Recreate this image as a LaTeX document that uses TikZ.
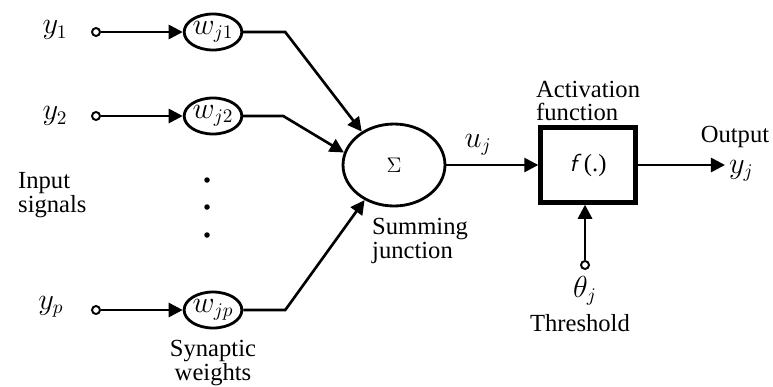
\documentclass[tikz,border=0pt]{standalone}
\usepackage{fontspec}
\setmainfont{Liberation Serif}
\usetikzlibrary{arrows.meta,shapes.geometric}

\tikzset{
	weight/.style={draw, ellipse, line width=1.6pt, inner sep=0pt,
		minimum width=1.06cm, minimum height=0.72cm},
	summer/.style={draw, ellipse, line width=1.6pt, inner sep=0pt,
		minimum width=2.04cm, minimum height=1.64cm},
	actbox/.style={draw, rectangle, line width=2.5pt, inner sep=0pt,
		minimum width=1.9cm, minimum height=1.5cm},
	terminal/.style={draw, circle, line width=1.1pt, fill=white, inner sep=0pt,
		minimum size=0.16cm},
	sig/.style={line width=1.5pt, -{Triangle[length=8pt,width=8pt]}},
	mathlbl/.style={font=\fontsize{16}{18}\selectfont},
}

\begin{document}
\begin{tikzpicture}[x=0.02cm, y=-0.02cm,
	every node/.append style={font=\fontsize{14}{13.6}\selectfont}]
	\useasboundingbox (0,0) rectangle (773,386);
	
	% Input terminals and synaptic weights
	\node[terminal] (in1) at (96,32) {};
	\node[terminal] (in2) at (96,116) {};
	\node[terminal] (inp) at (96,310) {};
	\node[weight, mathlbl] (w1) at (213,32) {$w_{j1}$};
	\node[weight, mathlbl] (w2) at (213,116) {$w_{j2}$};
	\node[weight, mathlbl] (wp) at (213,310) {$w_{jp}$};
	
	\node[mathlbl] (y1) at (55,30) {$y_1$};
	\node[mathlbl] (y2) at (55,116) {$y_2$};
	\node[mathlbl] (yp) at (51,307) {$y_p$};
	\node[align=left, anchor=west] (insig) at (12,195) {Input\\signals};
	\node[align=center] (synw) at (213,363) {Synaptic\\weights};
	
	% Dots for the omitted inputs
	\foreach \y in {180,207,235}
		\fill (207,\y) circle (0.055cm);
	
	\draw[sig] (in1) -- (w1);
	\draw[sig] (in2) -- (w2);
	\draw[sig] (inp) -- (wp);
	
	% Summing junction
	\node[summer, font=\fontsize{12}{14}\selectfont] (sum) at (394,165) {$\Sigma$};
	\node[align=left, anchor=north west] (sumlbl) at (366,212) {Summing\\junction};
	
	\draw[sig] (w1.east) -- ++(42,0) -- (sum.134);
	\draw[sig] (w2.east) -- ++(40,0) -- (sum.166);
	\draw[sig] (wp.east) -- ++(42,0) -- (sum.230);
	
	% Activation function
	\node[actbox] (act) at (588,165) {{\sffamily\itshape f}\hspace{4pt}(.)};
	\node[align=left, anchor=west] (actlbl) at (530,101) {Activation\\function};
	\node[mathlbl] (uj) at (478,145) {$u_j$};
	\draw[sig] (sum) -- (act);
	
	% Output
	\coordinate (out) at (725,165);
	\draw[sig] (act.east) -- (out);
	\node[inner sep=1pt] (outlbl) at (735,137) {Output};
	\node[mathlbl, anchor=west, inner sep=1pt] (yj) at (727,171) {$y_j$};
	
	% Threshold
	\node[terminal] (th) at (585,265) {};
	\draw[sig] (th) -- (th |- act.south);
	\node[mathlbl] (thj) at (585,291) {$\theta_j$};
	\node (thlbl) at (580,323) {Threshold};
	
\end{tikzpicture}
\end{document}
